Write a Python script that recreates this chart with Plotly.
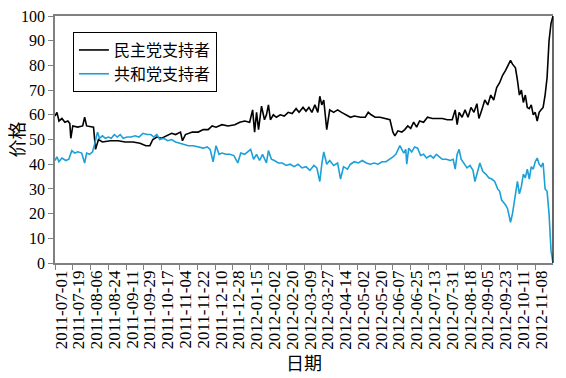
import plotly.graph_objects as go

# Tick labels (one every 18 observations)
tick_labels = [
    "2011-07-01", "2011-07-19", "2011-08-06", "2011-08-24", "2011-09-11", "2011-09-29",
    "2011-10-17", "2011-11-04", "2011-11-22", "2011-12-10", "2011-12-28", "2012-01-15",
    "2012-02-02", "2012-02-20", "2012-03-09", "2012-03-27", "2012-04-14", "2012-05-02",
    "2012-05-20", "2012-06-07", "2012-06-25", "2012-07-13", "2012-07-31", "2012-08-18",
    "2012-09-05", "2012-09-23", "2012-10-11", "2012-11-08",
]
tick_obs = [18 * k for k in range(len(tick_labels))]

# Democrat supporters (observation index, price)
dem_obs = [0, 2, 4, 7, 10, 13, 15, 16, 18, 23, 28, 30, 32, 37, 39, 41, 44, 48, 56, 64,
           71, 79, 86, 92, 96, 99, 103, 108, 113, 118, 122, 127, 129, 132, 139, 145, 150,
           155, 159, 163, 169, 175, 182, 187, 192, 197, 200, 202, 204, 206, 209, 212, 214,
           216, 218, 221, 224, 228, 232, 236, 240, 244, 247, 251, 254, 257, 260, 263, 266,
           268, 270, 272, 275, 278, 282, 286, 290, 294, 299, 303, 309, 314, 317, 320, 324,
           329, 334, 339, 342, 344, 347, 351, 354, 357, 360, 363, 366, 369, 373, 377, 382,
           387, 392, 397, 402, 405, 407, 409, 412, 415, 418, 421, 424, 427, 429, 432, 435,
           438, 441, 444, 447, 450, 453, 456, 459, 461, 463, 466, 468, 470, 472, 474, 476,
           478, 480, 482, 484, 486, 488, 490, 492, 494, 496, 498, 500, 502, 504]
dem_val = [59.5, 61, 57.5, 58.5, 57, 57.5, 56.5, 50.5, 55.5, 55, 55.5, 59, 55.5, 55, 55, 46,
           50, 49, 49.5, 49.5, 49, 49, 48.5, 47.5, 47.5, 50, 51, 50.5, 51.5, 52.5, 52, 53,
           49.5, 52, 53, 53, 54, 54, 55.5, 55, 56, 55.5, 56, 57, 57.5, 57, 62, 53, 61, 54,
           63.5, 58, 60, 64, 58, 60, 59, 60, 59.5, 61, 60.5, 62.5, 61, 63, 61.5, 63, 61, 64,
           61, 67.5, 64, 66, 54, 62, 61, 62, 61, 60, 59, 59.5, 59, 59, 61, 60, 59, 59, 58.5,
           58, 53, 51.5, 53.5, 53, 54, 55.5, 54.5, 57, 55, 57.5, 57, 59, 58.5, 58.5, 58.5,
           58, 58, 62, 56, 61, 59, 62, 59, 63, 61, 64.5, 58.5, 62, 66, 64, 68, 66, 71, 73,
           76, 78, 80.5, 82, 80.5, 79, 74, 68, 70, 65, 68, 63, 62.5, 64, 60, 61, 57.5, 61,
           62, 63, 68, 75, 90, 97, 100]

# Republican supporters (observation index, price)
rep_obs = [0, 2, 4, 7, 11, 14, 17, 20, 23, 27, 30, 32, 35, 38, 40, 43, 45, 48, 51, 54, 57,
           60, 63, 66, 69, 73, 77, 81, 85, 89, 93, 97, 100, 103, 106, 110, 114, 118, 122,
           127, 131, 135, 140, 145, 150, 154, 157, 160, 163, 166, 169, 173, 177, 181, 185,
           188, 192, 195, 198, 201, 204, 207, 210, 214, 216, 219, 222, 226, 230, 234, 238,
           242, 246, 250, 254, 258, 262, 265, 268, 270, 272, 275, 278, 282, 286, 289, 292,
           296, 299, 303, 307, 311, 315, 319, 323, 327, 331, 335, 339, 342, 345, 347, 349,
           351, 353, 355, 356, 358, 361, 364, 367, 370, 373, 376, 380, 383, 386, 389, 392,
           396, 400, 403, 405, 407, 409, 411, 414, 417, 420, 423, 425, 428, 430, 433, 436,
           439, 442, 445, 448, 450, 452, 454, 456, 458, 460, 461, 463, 466, 468, 470, 472,
           474, 476, 478, 480, 482, 484, 486, 488, 490, 492, 494, 496, 498, 500, 502, 504]
rep_val = [41.5, 43, 41, 42.5, 41.5, 42, 45.5, 44.5, 45, 44.5, 40.5, 44.5, 44, 45, 48, 53,
           50.5, 51.5, 50.5, 51, 50.5, 52, 51, 52, 50.5, 51, 51, 51.5, 51, 52.5, 52, 52, 51,
           52, 50, 50.5, 49.5, 50, 49, 48.5, 48, 47.5, 47.5, 47, 46.5, 47, 46, 41, 47.5, 44,
           44.5, 44, 44, 43.5, 40.5, 44.5, 44, 45, 46, 42, 44, 41.5, 44, 40.5, 45.5, 42, 41.5,
           40.5, 40.5, 39.5, 40, 39, 40, 38.5, 39, 37.5, 39.5, 38.5, 33, 40, 45, 40, 41.5,
           39.5, 40.5, 34, 39, 38, 40, 41, 40.5, 41.5, 40.5, 40, 40.5, 40, 41, 41, 42, 43,
           44, 46, 47.5, 46, 44.5, 46, 40, 46.5, 45, 47, 46.5, 43.5, 44, 42.5, 43.5, 42.5,
           44, 43, 42, 42, 41.5, 42, 38, 44, 46, 42, 40, 38.5, 39.5, 37.5, 33, 38, 40.5, 37,
           36, 34.5, 34, 33, 30, 29, 25.5, 24.5, 23.5, 22, 18.5, 16.5, 20, 27, 33, 28, 31,
           36, 34.5, 38, 34, 39, 38, 41, 42.5, 40, 39, 40.5, 30, 29, 20, 5, 0]

y_ticks = list(range(0, 101, 10))

SERIF = '"Liberation Serif", "Times New Roman", serif'
CJK = '"Liberation Serif", "Noto Sans CJK SC", serif'

fig = go.Figure()
fig.add_trace(go.Scatter(x=dem_obs, y=dem_val, mode="lines", name="民主党支持者",
                         line=dict(color="#000000", width=1.6), cliponaxis=False))
fig.add_trace(go.Scatter(x=rep_obs, y=rep_val, mode="lines", name="共和党支持者",
                         line=dict(color="#1BA0D7", width=1.6), cliponaxis=False))

# page body has an 8px default margin, so the figure is 558x370
fig.update_layout(
    width=558, height=370,
    margin=dict(l=47, r=13, t=8, b=115, autoexpand=False),
    paper_bgcolor="white", plot_bgcolor="white",
    font=dict(family=SERIF, size=16, color="#000000"),
    showlegend=True,
    legend=dict(
        x=0.036, y=0.935, xanchor="left", yanchor="top",
        bordercolor="#000000", borderwidth=1, bgcolor="white",
        font=dict(family=CJK, size=16, color="#000000"),
        itemwidth=30, tracegroupgap=0,
    ),
    xaxis=dict(
        range=[0, 504], tickmode="array", tickvals=tick_obs, ticktext=tick_labels,
        tickangle=-90, ticks="outside", ticklen=5, tickcolor="#808080",
        showline=True, linecolor="#808080", linewidth=1.5, mirror=True,
        showgrid=False, zeroline=False, ticklabelshift=6, ticklabelstandoff=-6,
        automargin=False, ticklabeloverflow="allow",
        tickfont=dict(family=SERIF, size=17),
        title=dict(text="日期", font=dict(family=CJK, size=18), standoff=9),
    ),
    yaxis=dict(
        range=[0, 100], tickmode="array", tickvals=y_ticks,
        ticks="outside", ticklen=5, tickcolor="#808080",
        showline=True, linecolor="#808080", linewidth=1.5,
        showgrid=False, zeroline=False, automargin=False, ticklabeloverflow="allow",
        tickfont=dict(family=SERIF, size=16),
        title=dict(text="价格", font=dict(family=CJK, size=18), standoff=3),
    ),
    shapes=[dict(type="line", xref="paper", yref="paper", x0=1, x1=1, y0=0, y1=1,
                 line=dict(color="#000000", width=1.2))],
)

fig.write_html("out.html")
